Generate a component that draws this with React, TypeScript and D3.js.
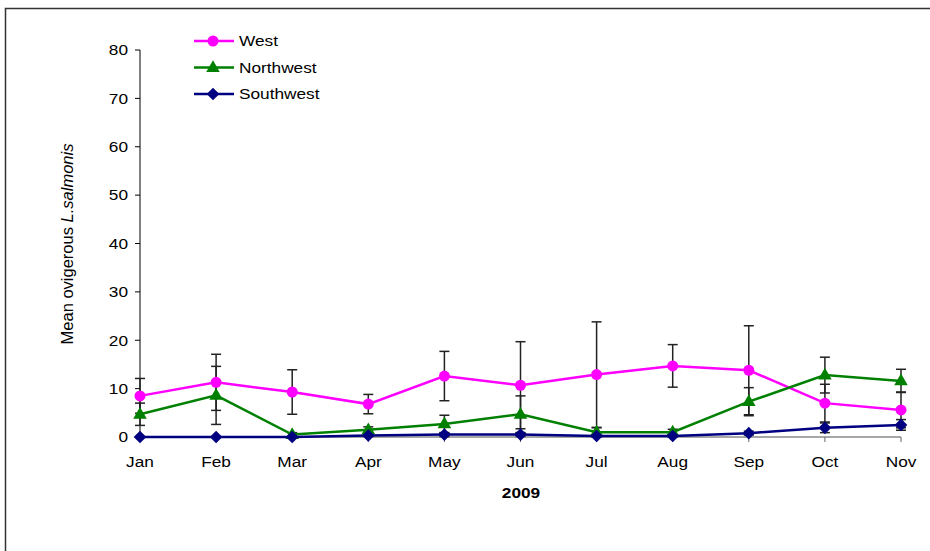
import * as d3 from "d3";

const months = ["Jan", "Feb", "Mar", "Apr", "May", "Jun", "Jul", "Aug", "Sep", "Oct", "Nov"];
const yTicks = [0, 10, 20, 30, 40, 50, 60, 70, 80];

const westMean = [8.5, 11.3, 9.3, 6.8, 12.6, 10.7, 12.9, 14.7, 13.8, 7.0, 5.6];
const westErr = [3.6, 5.8, 4.6, 2.0, 5.1, 9.0, 10.9, 4.4, 9.2, 3.9, 3.7];
const northwestMean = [4.7, 8.6, 0.5, 1.5, 2.7, 4.7, 1.0, 1.0, 7.3, 12.8, 11.6];
const northwestErr = [2.3, 6.0, 0.4, 0.6, 1.8, 3.8, 0.9, 0.6, 2.9, 3.7, 2.4];
const southwestMean = [0, 0, 0, 0.3, 0.5, 0.5, 0.2, 0.2, 0.8, 1.9, 2.5];
const southwestErr = [0, 0, 0, 0.2, 0.4, 0.4, 0.2, 0.2, 0.4, 1.0, 1.1];

const series = [
  { name: "West", mean: westMean, err: westErr, color: "#ff00ff", marker: "circle" },
  { name: "Northwest", mean: northwestMean, err: northwestErr, color: "#008000", marker: "triangle" },
  { name: "Southwest", mean: southwestMean, err: southwestErr, color: "#000080", marker: "diamond" },
];

const font = "'Liberation Sans', Arial, sans-serif";
// the original text is a bit wider than regular Arial
const stretch = 1.15;

const Txt = ({ x, y, anchor = "start", bold = false, children }) => (
  <g transform={`translate(${x},${y}) scale(${stretch},1)`}>
    <text
      x={0}
      y={0}
      dy="0.35em"
      textAnchor={anchor}
      fontSize={15}
      fontWeight={bold ? "bold" : "normal"}
      fill="#000"
    >
      {children}
    </text>
  </g>
);

const Marker = ({ type, x, y, color }) => {
  if (type === "circle") return <circle cx={x} cy={y} r={5.5} fill={color} />;
  if (type === "diamond") {
    return (
      <path
        d={d3.symbol().type(d3.symbolSquare).size(80)()}
        transform={`translate(${x},${y}) rotate(45)`}
        fill={color}
      />
    );
  }
  return (
    <path
      d={d3.symbol().type(d3.symbolTriangle).size(80)()}
      transform={`translate(${x},${y + 0.5})`}
      fill={color}
    />
  );
};

export default function App() {
  const width = 930;
  const height = 551;
  const x = d3.scalePoint().domain(months).range([140, 901]).padding(0);
  const y = d3.scaleLinear().domain([0, 80]).range([437, 50]);
  const line = d3
    .line<number>()
    .x((_, i) => x(months[i]))
    .y((d) => y(d));

  return (
    <svg
      width={width}
      height={height}
      style={{ position: "absolute", left: 0, top: 0, fontFamily: font }}
    >
      <rect x={0} y={0} width={width} height={height} fill="#fff" />
      <rect x={5.5} y={8.5} width={1000} height={1000} fill="none" stroke="#333" strokeWidth={1.5} />

      {/* y axis */}
      <line x1={140} x2={140} y1={y(80)} y2={y(0)} stroke="#000" strokeWidth={1} />
      {yTicks.map((t) => (
        <g key={t}>
          <line x1={135} x2={140} y1={y(t)} y2={y(t)} stroke="#000" />
          <Txt x={128} y={y(t)} anchor="end">
            {t}
          </Txt>
        </g>
      ))}

      {/* x axis */}
      <line x1={140} x2={901} y1={y(0)} y2={y(0)} stroke="#888" strokeWidth={1.5} />
      {months.map((m) => (
        <g key={m}>
          <line x1={x(m)} x2={x(m)} y1={y(0)} y2={y(0) + 5} stroke="#666" />
          <Txt x={x(m)} y={462} anchor="middle">
            {m}
          </Txt>
        </g>
      ))}
      <Txt x={521} y={493} anchor="middle" bold>
        2009
      </Txt>
      <text
        transform="translate(73,244) rotate(-90)"
        textAnchor="middle"
        fontSize={16.5}
        fill="#000"
      >
        Mean ovigerous <tspan fontStyle="italic">L.salmonis</tspan>
      </text>

      {/* error bars */}
      {series.map((s) =>
        s.mean.map((v, i) => {
          const e = s.err[i];
          if (!e) return null;
          const cx = x(months[i]);
          const lo = y(Math.max(0, v - e));
          const hi = y(v + e);
          return (
            <g key={s.name + i} stroke="#222" strokeWidth={1.5}>
              <line x1={cx} x2={cx} y1={hi} y2={lo} />
              <line x1={cx - 5} x2={cx + 5} y1={hi} y2={hi} />
              <line x1={cx - 5} x2={cx + 5} y1={lo} y2={lo} />
            </g>
          );
        })
      )}

      {/* lines and markers */}
      {series.map((s) => (
        <g key={s.name}>
          <path d={line(s.mean)} fill="none" stroke={s.color} strokeWidth={2.5} />
          {s.mean.map((v, i) => (
            <Marker key={i} type={s.marker} x={x(months[i])} y={y(v)} color={s.color} />
          ))}
        </g>
      ))}

      {/* legend */}
      {series.map((s, i) => {
        const ly = 41 + i * 26.5;
        return (
          <g key={s.name}>
            <line x1={194} x2={234} y1={ly} y2={ly} stroke={s.color} strokeWidth={2.5} />
            <Marker type={s.marker} x={213} y={ly} color={s.color} />
            <Txt x={239} y={ly}>
              {s.name}
            </Txt>
          </g>
        );
      })}
    </svg>
  );
}
